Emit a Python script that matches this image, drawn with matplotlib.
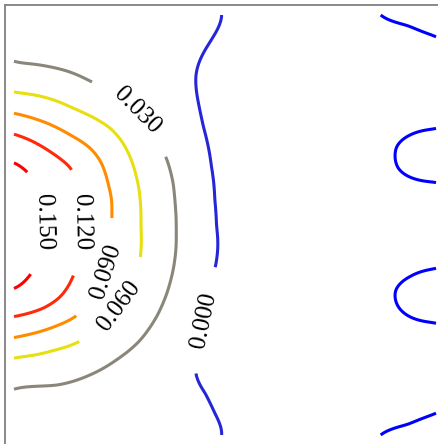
import numpy as np
import matplotlib
matplotlib.use("Agg")
import matplotlib.pyplot as plt

plt.rcParams["font.family"] = ["Liberation Serif", "DejaVu Serif"]
plt.rcParams["contour.negative_linestyle"] = "solid"

# Contour levels and the colour of each line
levels = [-0.030, 0.000, 0.030, 0.060, 0.090, 0.120, 0.150]
level_colors = ["#0000ff", "#2626d9", "#8a867a", "#e8df10", "#ff8c00", "#ff2a0a", "#ff0000"]

# Points sampled along each contour line (unit square, y upwards)
c150_x = [0.000, 0.028, 0.060, 0.069, 0.060, 0.034, 0.000]
c150_y = [0.648, 0.629, 0.575, 0.500, 0.425, 0.376, 0.349]

c120_x = [0.000, 0.046, 0.085, 0.113, 0.133, 0.152, 0.161, 0.152, 0.137, 0.109, 0.069, 0.000]
c120_y = [0.716, 0.698, 0.675, 0.655, 0.636, 0.585, 0.500, 0.415, 0.371, 0.329, 0.302, 0.282]

c090_x = [0.000, 0.046, 0.093, 0.141, 0.180, 0.208, 0.223, 0.231, 0.232,
          0.230, 0.221, 0.190, 0.145, 0.101, 0.046, 0.000]
c090_y = [0.766, 0.754, 0.736, 0.710, 0.683, 0.645, 0.599, 0.560, 0.526,
          0.450, 0.400, 0.330, 0.282, 0.260, 0.242, 0.232]

c060_x = [0.000, 0.046, 0.093, 0.141, 0.180, 0.227, 0.258, 0.275, 0.289, 0.299,
          0.301, 0.300, 0.285, 0.250, 0.200, 0.145, 0.093, 0.046, 0.000]
c060_y = [0.817, 0.810, 0.798, 0.778, 0.760, 0.731, 0.695, 0.662, 0.619, 0.560,
          0.500, 0.429, 0.365, 0.307, 0.253, 0.218, 0.201, 0.190, 0.183]

c030_x = [0.000, 0.046, 0.093, 0.133, 0.176, 0.235, 0.293, 0.335, 0.362, 0.377,
          0.384, 0.384, 0.378, 0.362, 0.338, 0.299, 0.243, 0.180, 0.101, 0.000]
c030_y = [0.890, 0.883, 0.875, 0.864, 0.845, 0.812, 0.772, 0.710, 0.656, 0.599,
          0.520, 0.448, 0.398, 0.337, 0.282, 0.226, 0.179, 0.143, 0.119, 0.109]

c000_x = [0.492, 0.472, 0.441, 0.431, 0.433, 0.449, 0.468, 0.476, 0.480,
          0.480, 0.468, 0.449, 0.433, 0.431, 0.453, 0.476, 0.492]
c000_y = [1.000, 0.948, 0.893, 0.853, 0.814, 0.734, 0.639, 0.560, 0.500,
          0.417, 0.361, 0.266, 0.186, 0.148, 0.099, 0.052, 0.000]

cm030_x = [0.869, 0.934, 1.000,
           1.000, 0.938, 0.907, 0.903, 0.911, 0.946, 1.000,
           1.000, 0.938, 0.905, 0.911, 0.946, 1.000,
           1.000, 0.934, 0.869]
cm030_y = [1.000, 0.974, 0.948,
           0.730, 0.714, 0.686, 0.665, 0.635, 0.611, 0.601,
           0.397, 0.377, 0.345, 0.305, 0.278, 0.266,
           0.052, 0.026, 0.000]

# Field values at a few places between the lines
extra_x = [0.00, 0.00, 0.20, 0.35, 0.00, 0.20, 0.35,
           0.60, 0.60, 0.60, 0.60, 0.60,
           0.75, 0.75, 0.75, 0.75, 0.75, 0.75, 0.75,
           0.90, 0.90, 0.90,
           1.00, 1.00, 1.00, 1.00, 1.00, 1.00, 1.00]
extra_y = [0.50, 1.00, 1.00, 0.98, 0.00, 0.00, 0.02,
           0.50, 0.83, 1.00, 0.17, 0.00,
           0.50, 0.665, 0.83, 1.00, 0.335, 0.17, 0.00,
           0.50, 0.83, 0.17,
           0.50, 0.665, 0.83, 1.00, 0.335, 0.17, 0.00]
extra_z = [0.167, 0.012, 0.009, 0.006, 0.012, 0.009, 0.006,
           -0.010, -0.011, -0.008, -0.011, -0.008,
           -0.019, -0.021, -0.019, -0.021, -0.021, -0.019, -0.021,
           -0.025, -0.025, -0.025,
           -0.026, -0.034, -0.026, -0.035, -0.034, -0.026, -0.035]

# Where each level's label sits
label_positions = [(0.069, 0.506), (0.161, 0.506), (0.215, 0.390),
                   (0.250, 0.307), (0.293, 0.772), (0.448, 0.274)]

# ---- gather samples ----
line_sets = [(cm030_x, cm030_y, -0.030), (c000_x, c000_y, 0.000),
             (c030_x, c030_y, 0.030), (c060_x, c060_y, 0.060),
             (c090_x, c090_y, 0.090), (c120_x, c120_y, 0.120),
             (c150_x, c150_y, 0.150)]
px, py, pz, ps = [], [], [], []
for xs, ys, lv in line_sets:
    px += list(xs); py += list(ys); pz += [lv] * len(xs); ps += [2e-6] * len(xs)
px += extra_x; py += extra_y; pz += extra_z; ps += [2e-4] * len(extra_x)
px, py, pz, ps = map(np.asarray, (px, py, pz, ps))


def kernel(r):
    with np.errstate(divide="ignore", invalid="ignore"):
        return np.where(r > 0, r * r * np.log(r), 0.0)


# thin-plate spline surface through the samples
n = len(px)
d = np.hypot(px[:, None] - px[None, :], py[:, None] - py[None, :])
K = kernel(d) + np.diag(ps)
P = np.column_stack([np.ones(n), px, py])
A = np.block([[K, P], [P.T, np.zeros((3, 3))]])
b = np.concatenate([pz, np.zeros(3)])
sol = np.linalg.solve(A, b)
w, a = sol[:n], sol[n:]

gx = np.linspace(0.0, 1.0, 321)
gy = np.linspace(0.0, 1.0, 321)
GX, GY = np.meshgrid(gx, gy)
Z = np.empty_like(GX)
for i in range(GX.shape[0]):
    r = np.hypot(GX[i][:, None] - px[None, :], GY[i][:, None] - py[None, :])
    Z[i] = kernel(r) @ w + a[0] + a[1] * GX[i] + a[2] * GY[i]

# ---- figure ----
fig = plt.figure(figsize=(4.38, 4.44), dpi=100)
ax = fig.add_axes([5 / 438, 1 - 445 / 444, 440 / 438, 440 / 444])
ax.set_xlim(-9 / 422, 1 + 9 / 422)
ax.set_ylim(-10 / 420, 1 + 10 / 420)
ax.set_xticks([])
ax.set_yticks([])
for sp in ax.spines.values():
    sp.set_color("#808080")
    sp.set_linewidth(1.3)

# unlabelled lowest level, then the labelled ones
ax.contour(GX, GY, Z, levels=levels[:1], colors=level_colors[:1],
           linewidths=2.2, linestyles="solid")
cs = ax.contour(GX, GY, Z, levels=levels[1:], colors=level_colors[1:],
                linewidths=2.2, linestyles="solid")
ax.clabel(cs, inline=True, inline_spacing=26, fmt="%.3f",
          fontsize=18, colors="black", manual=label_positions)

fig.savefig("out.png", dpi=100)
